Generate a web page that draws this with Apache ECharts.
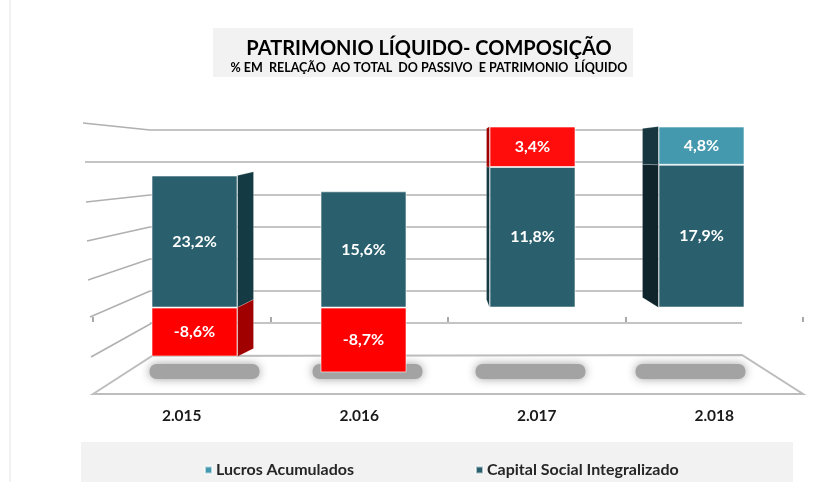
<!DOCTYPE html>
<html>
<head>
<meta charset="utf-8">
<script src="https://cdn.jsdelivr.net/npm/echarts@6/dist/echarts.min.js"></script>
<style>
html,body{margin:0;padding:0;background:#fff;}
#chart{width:828px;height:482px;}
</style>
</head>
<body>
<div id="chart"></div>
<script>
// ---- data ----
const categories = ['2.015', '2.016', '2.017', '2.018'];
const lucrosAcumulados = [-8.6, -8.7, 3.4, 4.8];
const capitalSocial = [23.2, 15.6, 11.8, 17.9];
const lucrosColors = ['#ff0000', '#ff0000', '#ff0d0d', '#4599ae'];
const wallTicks = [0, 1, 2, 3, 4, 5, 6];

// ---- styles ----
const FONT = 'Lato, "Open Sans", sans-serif';
const CAP_COLOR = '#2a5f6d';
const LUC_COLOR = '#4599ae';
const BAR_W = 86;
const sideW = [16, 0, -3, -16];
const sideDyTop = [-2, 0, 2, 2];
const sideDyZero = [-8, 0, -8, -10];
const capSideColor = ['#143a44', '#143a44', '#143a44', '#0f242b'];
const lucSideColor = ['#a00000', '#a00000', '#a00000', '#17363f'];
const shadowShift = [10, 4, -2, -11];

// 100% stacked shares (Excel-style: share of absolute total)
const totals = capitalSocial.map((c, i) => Math.abs(c) + Math.abs(lucrosAcumulados[i]));
const capShare = capitalSocial.map((c, i) => c / totals[i] * 100);
const lucShare = lucrosAcumulados.map((l, i) => l / totals[i] * 100);

const fmt = v => v.toFixed(1).replace('.', ',') + '%';

const chart = echarts.init(document.getElementById('chart'), null, {renderer: 'canvas'});

function renderSide(params, api) {
  const i = api.value(0);
  const w = sideW[i];
  if (!w) return null;
  const c0 = api.coord([i, 0]);
  const cx = c0[0];
  const nearX = w > 0 ? cx + BAR_W / 2 : cx - BAR_W / 2;
  const farX = nearX + w;
  const dy = v => v >= 0 ? sideDyZero[i] + (sideDyTop[i] - sideDyZero[i]) * v / 100 : sideDyZero[i];
  const segs = [];
  segs.push([0, capShare[i], capSideColor[i]]);
  if (lucShare[i] < 0) segs.push([lucShare[i], 0, lucSideColor[i]]);
  else segs.push([capShare[i], capShare[i] + lucShare[i], lucSideColor[i]]);
  const children = segs.map(s => {
    const y0 = api.coord([i, s[0]])[1];
    const y1 = api.coord([i, s[1]])[1];
    return {
      type: 'polygon',
      shape: {points: [[nearX, y1], [farX, y1 + dy(s[1])], [farX, y0 + dy(s[0])], [nearX, y0]]},
      style: {fill: s[2], stroke: 'rgba(255,255,255,0.35)', lineWidth: 0.6}
    };
  });
  return {type: 'group', children: children};
}

function renderShadow(params, api) {
  const i = api.value(0);
  const cx = api.coord([i, 0])[0] + shadowShift[i];
  return {
    type: 'rect',
    shape: {x: cx - 55, y: 364, width: 110, height: 15, r: 7},
    style: {fill: '#a3a3a3', shadowBlur: 10, shadowColor: 'rgba(150,150,150,0.9)'}
  };
}

const idx = categories.map((c, i) => [i]);

const option = {
  backgroundColor: '#ffffff',
  animation: false,
  title: [
    {text: 'PATRIMONIO LÍQUIDO- COMPOSIÇÃO', left: 424, top: 34, textAlign: 'center',
     textStyle: {fontFamily: FONT, fontSize: 20, fontWeight: 'bold', color: '#000'}},
    {text: '% EM  RELAÇÃO  AO TOTAL  DO PASSIVO  E PATRIMONIO  LÍQUIDO', left: 424, top: 56, textAlign: 'center',
     textStyle: {fontFamily: FONT, fontSize: 12.5, fontWeight: 'bold', color: '#000'}}
  ],
  graphic: [
    {type: 'rect', z: -10, shape: {x: 213, y: 28, width: 420, height: 49}, style: {fill: '#f2f2f2'}},
    {type: 'rect', z: -10, shape: {x: 81, y: 442, width: 712, height: 40}, style: {fill: '#f2f2f2'}},
    {type: 'line', z: -10, shape: {x1: 10, y1: 0, x2: 10, y2: 482}, style: {stroke: '#e3e3e3', lineWidth: 1}},
    {type: 'polygon', z: -5, shape: {points: [[93, 394], [152, 356], [742, 355], [803, 394]]},
     style: {fill: '#ffffff', stroke: '#bdbdbd', lineWidth: 2}},
    {type: 'polyline', z: -5, shape: {points: [[83, 123], [150, 130]]}, style: {stroke: '#b0b0b0', lineWidth: 1.5}},
    {type: 'polyline', z: -5, shape: {points: [[85, 162], [150, 162]]}, style: {stroke: '#b0b0b0', lineWidth: 1.5}},
    {type: 'polyline', z: -5, shape: {points: [[86, 202], [150, 195]]}, style: {stroke: '#b0b0b0', lineWidth: 1.5}},
    {type: 'polyline', z: -5, shape: {points: [[87, 241], [150, 227]]}, style: {stroke: '#b0b0b0', lineWidth: 1.5}},
    {type: 'polyline', z: -5, shape: {points: [[88, 280], [150, 259]]}, style: {stroke: '#b0b0b0', lineWidth: 1.5}},
    {type: 'polyline', z: -5, shape: {points: [[90, 317], [150, 291]]}, style: {stroke: '#b0b0b0', lineWidth: 1.5}},
    {type: 'polyline', z: -5, shape: {points: [[91, 357], [152, 323]]}, style: {stroke: '#b0b0b0', lineWidth: 1.5}}
  ],
  legend: {
    data: ['Lucros Acumulados', 'Capital Social Integralizado'],
    left: 199, top: 457,
    icon: 'rect', itemWidth: 7, itemHeight: 7, itemGap: 121,
    textStyle: {fontFamily: FONT, fontSize: 16, fontWeight: 'bold', color: '#262626', padding: [0, 0, 0, -1]}
  },
  grid: [
    {left: 110, right: 42, top: 126.5, bottom: 102},
    {left: 150, right: 86, top: 130, bottom: 159},
    {left: 93, right: 25, top: 130, bottom: 160}
  ],
  xAxis: [
    {type: 'category', gridIndex: 0, data: categories, show: false},
    {type: 'category', gridIndex: 1, data: categories, show: false},
    {type: 'category', gridIndex: 2, data: categories,
     axisLine: {show: false},
     axisTick: {show: true, inside: true, length: 5, lineStyle: {color: '#8c8c8c', width: 1.5}},
     axisLabel: {margin: 86, fontFamily: FONT, fontSize: 15.5, fontWeight: 'bold', color: '#1a1a1a'}}
  ],
  yAxis: [
    {type: 'value', gridIndex: 0, min: -40, max: 100, show: false},
    {type: 'value', gridIndex: 1, min: wallTicks[0], max: wallTicks[wallTicks.length - 1], interval: 1,
     axisLine: {show: false}, axisTick: {show: false}, axisLabel: {show: false},
     splitLine: {show: true, lineStyle: {color: '#b0b0b0', width: 1.5}}},
    {type: 'value', gridIndex: 2, show: false}
  ],
  series: [
    {type: 'custom', name: 'shadow', xAxisIndex: 0, yAxisIndex: 0, data: idx, renderItem: renderShadow, z: 1, silent: true},
    {type: 'custom', name: 'side', xAxisIndex: 0, yAxisIndex: 0, data: idx, renderItem: renderSide, z: 2, silent: true},
    {
      name: 'Capital Social Integralizado', type: 'bar', stack: 'pl', xAxisIndex: 0, yAxisIndex: 0,
      barWidth: BAR_W, z: 3,
      itemStyle: {color: CAP_COLOR, borderColor: 'rgba(255,255,255,0.6)', borderWidth: 1},
      label: {show: true, position: 'inside', fontFamily: FONT, fontSize: 16, fontWeight: 'bold', color: '#fff',
              formatter: p => fmt(capitalSocial[p.dataIndex])},
      data: capShare
    },
    {
      name: 'Lucros Acumulados', type: 'bar', stack: 'pl', xAxisIndex: 0, yAxisIndex: 0,
      barWidth: BAR_W, z: 3,
      itemStyle: {color: LUC_COLOR, borderColor: 'rgba(255,255,255,0.6)', borderWidth: 1},
      label: {show: true, position: 'inside', fontFamily: FONT, fontSize: 16, fontWeight: 'bold', color: '#fff',
              formatter: p => fmt(lucrosAcumulados[p.dataIndex])},
      data: lucShare.map((v, i) => ({value: v, itemStyle: {color: lucrosColors[i]}}))
    }
  ]
};
chart.setOption(option);
</script>
</body>
</html>
